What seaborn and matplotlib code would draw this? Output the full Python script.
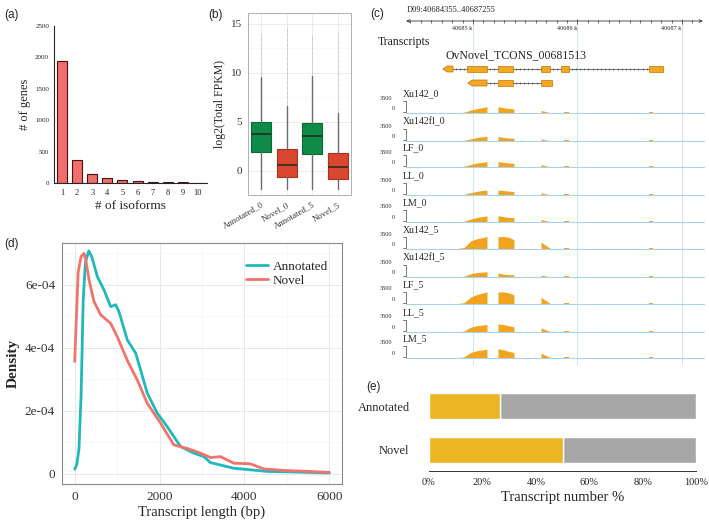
import numpy as np
import pandas as pd
import matplotlib.pyplot as plt
from matplotlib.patches import Rectangle, Polygon
import seaborn as sns

# ---------------- data ----------------
# (a) number of isoforms per gene
isoform_n = ["1", "2", "3", "4", "5", "6", "7", "8", "9", "10"]
gene_counts = [1950, 360, 145, 80, 45, 25, 15, 10, 8, 5]

# (b) log2(Total FPKM) box statistics
box_groups = ["Annotated_0", "Novel_0", "Annotated_5", "Novel_5"]
box_q1 = [1.94, -0.63, 1.77, -0.80]
box_med = [3.75, 0.65, 3.57, 0.39]
box_q3 = [5.0, 2.24, 4.9, 1.8]
box_lo = [-1.84, -1.84, -1.84, -1.84]
box_hi = [9.6, 6.6, 9.7, 5.9]
flier_top = [14.1, 14.7, 13.9, 14.2]

# (c) gene model (genomic coordinates)
region = (40684355, 40687255)
tx1_start = [40684713, 40684943, 40685239, 40685651, 40685842, 40686685]
tx1_end = [40684809, 40685134, 40685383, 40685737, 40685919, 40686819]
tx2_start = [40684952, 40685239, 40685651]
tx2_end = [40685134, 40685383, 40685756]

# coverage sampled at these positions (5 blocks)
cov_pos = [[40684840, 40684914, 40684980, 40685040, 40685100, 40685134],
           [40685239, 40685290, 40685340, 40685392],
           [40685651, 40685737],
           [40685871, 40685919],
           [40686685, 40686723]]
cov_xu142_0 = [30, 200, 800, 1200, 1500, 1700, 1700, 1450, 1250, 1100, 700, 80, 250, 250, 200, 200]
cov_xu142fl_0 = [20, 150, 600, 950, 1150, 1300, 1200, 950, 800, 750, 550, 60, 200, 200, 150, 150]
cov_lf_0 = [30, 200, 700, 1100, 1300, 1450, 1450, 1250, 1100, 1000, 650, 80, 220, 220, 180, 180]
cov_ll_0 = [30, 150, 650, 1000, 1250, 1350, 1350, 1200, 1050, 950, 600, 70, 200, 200, 150, 150]
cov_lm_0 = [30, 200, 800, 1250, 1500, 1650, 1700, 1450, 1250, 1150, 700, 80, 250, 250, 200, 200]
cov_xu142_5 = [80, 400, 2200, 2800, 3100, 3400, 3300, 3350, 3200, 2500, 1900, 200, 400, 400, 350, 350]
cov_xu142fl_5 = [30, 200, 900, 1200, 1350, 1400, 1100, 800, 650, 600, 500, 60, 200, 200, 150, 150]
cov_lf_5 = [60, 350, 1900, 2600, 3000, 3300, 3200, 3300, 3000, 2500, 1800, 200, 400, 400, 350, 350]
cov_ll_5 = [40, 250, 1300, 1700, 1900, 2000, 2200, 2000, 1700, 1400, 1100, 120, 250, 250, 200, 200]
cov_lm_5 = [50, 300, 1500, 2000, 2200, 2400, 2500, 2200, 1800, 1500, 1300, 150, 300, 300, 250, 250]
samples = [("Xu142_0", cov_xu142_0), ("Xu142fl_0", cov_xu142fl_0), ("LF_0", cov_lf_0),
           ("LL_0", cov_ll_0), ("LM_0", cov_lm_0), ("Xu142_5", cov_xu142_5),
           ("Xu142fl_5", cov_xu142fl_5), ("LF_5", cov_lf_5), ("LL_5", cov_ll_5),
           ("LM_5", cov_lm_5)]

# (d) transcript length density (units of 1e-4)
ann_len = [0, 50, 100, 150, 200, 250, 330, 400, 534, 690, 847, 965, 1043, 1240, 1435,
           1553, 1710, 1945, 2180, 2494, 2807, 3042, 3200, 3750, 4530, 5200, 6000]
ann_dens = [0.15, 0.3, 0.8, 2.5, 5.5, 6.7, 7.08, 6.9, 6.26, 5.84, 5.31, 5.37, 5.15, 4.25, 3.84,
            3.3, 2.56, 1.93, 1.5, 0.87, 0.66, 0.55, 0.36, 0.18, 0.08, 0.06, 0.03]
nov_len = [0, 40, 80, 150, 220, 260, 337, 455, 612, 847, 1004, 1240, 1475, 1710, 2024,
           2336, 2650, 2965, 3200, 3435, 3750, 4141, 4455, 4925, 5500, 6000]
nov_dens = [3.57, 5.0, 6.4, 6.9, 7.0, 6.8, 6.16, 5.47, 5.05, 4.78, 4.35, 3.6, 2.98, 2.24, 1.61,
            0.92, 0.81, 0.66, 0.52, 0.55, 0.34, 0.32, 0.16, 0.11, 0.08, 0.05]

# (e) transcript number %
e_cats = ["Annotated", "Novel"]
e_yellow = [26.5, 50.0]
e_grey = [73.5, 50.0]

# ---------------- figure ----------------
sns.set_theme(style="white")
plt.rcParams["font.family"] = ["Liberation Serif", "DejaVu Serif"]
plt.rcParams["axes.linewidth"] = 0.8

W, H = 709, 524
fig = plt.figure(figsize=(W / 100, H / 100), dpi=100)


def px_axes(x0, y0, x1, y1):
    return fig.add_axes([x0 / W, 1 - y1 / H, (x1 - x0) / W, (y1 - y0) / H])


def px_text(x, y, s, **kw):
    fig.text(x / W, 1 - y / H, s, **kw)


SANS = ["Liberation Sans", "DejaVu Sans"]

# ----- (a)
ax = px_axes(54, 26, 207, 183)
sns.barplot(x=isoform_n, y=gene_counts, color="#F26D6B", edgecolor="#4A1212",
            linewidth=0.8, width=0.66, saturation=1, ax=ax)
ax.set_xlim(-0.53, 9.6)
ax.set_ylim(0, 2500)
ax.set_yticks([0, 500, 1000, 1500, 2000, 2500])
sns.despine(ax=ax)
ax.tick_params(axis="both", direction="out", length=2.5, width=0.6, colors="#222222")
ax.tick_params(axis="y", labelsize=5, pad=1)
ax.tick_params(axis="x", labelsize=6, pad=2)
ax.set_xlabel("# of isoforms", fontsize=9.5, labelpad=2)
ax.set_ylabel("# of genes", fontsize=9, labelpad=3)
px_text(4, 18, "(a)", fontsize=8.5, family=SANS)

# ----- (b)
ax = px_axes(248, 13, 351, 195)
stats = [dict(q1=box_q1[i], med=box_med[i], q3=box_q3[i], whislo=box_lo[i],
              whishi=box_hi[i], fliers=[], label=box_groups[i]) for i in range(4)]
ax.vlines(range(4), box_hi, flier_top, colors="#9a9a9a", linewidth=0.7,
          linestyles=(0, (0.4, 0.9)), zorder=2)
bp = ax.bxp(stats, positions=range(4), widths=0.78, patch_artist=True, showfliers=False,
            whiskerprops=dict(color="#6b6b6b", linewidth=1.0),
            capprops=dict(linewidth=0),
            medianprops=dict(color="#1e2a1e", linewidth=1.1))
fills = ["#0F8A47", "#D9472E", "#0F8A47", "#D9472E"]
edges = ["#0A6A35", "#A33520", "#0A6A35", "#A33520"]
for patch, fc, ec in zip(bp["boxes"], fills, edges):
    patch.set_facecolor(fc)
    patch.set_edgecolor(ec)
    patch.set_linewidth(0.8)
ax.set_xlim(-0.5, 3.5)
ax.set_ylim(-2.45, 16.1)
ax.set_yticks([0, 5, 10, 15])
ax.set_yticks([2.5, 7.5, 12.5], minor=True)
ax.set_xticks(range(4))
ax.set_xticklabels(box_groups, rotation=30, ha="right", rotation_mode="anchor", fontsize=6.3)
ax.grid(True, which="major", color="#ebebeb", linewidth=0.7)
ax.grid(True, which="minor", axis="y", color="#f5f5f5", linewidth=0.5)
ax.set_axisbelow(True)
for s in ax.spines.values():
    s.set_color("#b0b0b0")
    s.set_linewidth(0.7)
ax.tick_params(axis="both", which="major", direction="out", length=2.5, width=0.6,
               colors="#333333", labelsize=8, pad=2)
ax.tick_params(axis="x", which="major", labelsize=6.3, pad=1.5)
ax.tick_params(axis="both", which="minor", length=0)
ax.set_ylabel("log2(Total FPKM)", fontsize=8.5, labelpad=3)
px_text(208, 18, "(b)", fontsize=8.5, family=SANS)

# ----- (c)
G0, G1 = region
oc = px_axes(405.6, 0, 708.6, 370)
oc.set_xlim(G0, G1)
oc.set_ylim(370, 0)
oc.axis("off")
for g in [40685000, 40686000, 40687000]:
    oc.vlines(g, 21, 365, color="#cde6f4", linewidth=0.7, zorder=0)
ruler_end = 40687200
oc.annotate("", xy=(G0 + 5, 21), xytext=(ruler_end, 21),
            arrowprops=dict(arrowstyle="<->", lw=0.6, color="#333333",
                            shrinkA=0, shrinkB=0, mutation_scale=5))
for g in range(40684400, ruler_end, 100):
    major = g % 1000 == 0
    oc.vlines(g, 21 - (2.5 if major else 1.5), 21 + (2.5 if major else 1.5),
              color="#333333", linewidth=0.5)
    if major:
        oc.text(g - 100, 28, f"{g // 1000} k", fontsize=4.5, ha="center", va="center")
px_text(407, 10, "D09:40684355..40687255", fontsize=6, va="center")
px_text(370, 17, "(c)", fontsize=8.5, family=SANS)
px_text(378, 42, "Transcripts", fontsize=8.5, va="center")
px_text(445, 55, "OvNovel_TCONS_00681513", fontsize=8.5, va="center")

exon_fc, exon_ec = "#F5A623", "#B97806"


def draw_tx(starts, ends, y, h=6):
    oc.plot([starts[0], ends[-1]], [y, y], color="#555555", linewidth=0.6, zorder=1)
    for a, b in zip(ends[:-1], starts[1:]):
        ticks = np.arange(a + 25, b - 10, 40)
        oc.plot(ticks, [y] * len(ticks), linestyle="none", marker="|", markersize=2,
                markeredgewidth=0.5, color="#555555", zorder=1)
    tip = 40
    s0, e0 = starts[0], ends[0]
    oc.add_patch(Polygon([(s0, y), (s0 + tip, y - h / 2), (e0, y - h / 2), (e0, y + h / 2),
                          (s0 + tip, y + h / 2)], closed=True, facecolor=exon_fc,
                         edgecolor=exon_ec, linewidth=0.5, zorder=2))
    for a, b in zip(starts[1:], ends[1:]):
        oc.add_patch(Rectangle((a, y - h / 2), b - a, h, facecolor=exon_fc,
                               edgecolor=exon_ec, linewidth=0.5, zorder=2))


draw_tx(tx1_start, tx1_end, 69)
draw_tx(tx2_start, tx2_end, 83)

baselines = [113, 141, 167, 195, 222, 249, 277, 304, 332, 358]
for (name, cov), base in zip(samples, baselines):
    ta = px_axes(405.6, base - 13, 708.6, base)
    ta.set_xlim(G0, G1)
    ta.set_ylim(0, 3500)
    ta.axis("off")
    k = 0
    for block in cov_pos:
        vals = cov[k:k + len(block)]
        ta.fill_between(block, 0, vals, color="#F2A41E", linewidth=0)
        k += len(block)
    ta.axhline(0, color="#a9d3ec", linewidth=0.8, clip_on=False, xmax=0.985)
    ta.plot([-0.008, 0.0, 0.0, -0.008], [0.92, 0.92, 0.08, 0.08], transform=ta.transAxes,
            color="#444444", linewidth=0.5, clip_on=False)
    px_text(403, base - 19, name, fontsize=7, va="center")
    px_text(392, base - 15, "3500", fontsize=4.5, ha="right", va="center")
    px_text(395, base - 4.5, "0", fontsize=4.5, ha="right", va="center")

# ----- (d)
ax = px_axes(62, 243, 342, 484)
dens_df = pd.concat([
    pd.DataFrame({"length": ann_len, "density": np.array(ann_dens) * 1e-4, "type": "Annotated"}),
    pd.DataFrame({"length": nov_len, "density": np.array(nov_dens) * 1e-4, "type": "Novel"}),
])
sns.lineplot(data=dens_df, x="length", y="density", hue="type",
             hue_order=["Annotated", "Novel"],
             palette={"Annotated": "#1FB8BB", "Novel": "#F0746C"},
             linewidth=2, ax=ax)
ax.set_xlim(-300, 6300)
ax.set_ylim(-0.32e-4, 7.33e-4)
ax.set_xticks([0, 2000, 4000, 6000])
ax.set_xticks([1000, 3000, 5000], minor=True)
ax.set_yticks([0, 2e-4, 4e-4, 6e-4])
ax.set_yticks([1e-4, 3e-4, 5e-4, 7e-4], minor=True)
ax.set_yticklabels(["0", "2e-04", "4e-04", "6e-04"])
ax.grid(True, which="major", color="#e8e8e8", linewidth=0.7)
ax.grid(True, which="minor", color="#f4f4f4", linewidth=0.5)
ax.set_axisbelow(True)
for s in ax.spines.values():
    s.set_color("#8a8a8a")
    s.set_linewidth(0.8)
ax.tick_params(axis="both", which="major", direction="out", length=3, width=0.6,
               colors="#333333", labelsize=9.5, pad=2)
ax.tick_params(axis="both", which="minor", length=0)
ax.set_xlabel("Transcript length (bp)", fontsize=10.5, labelpad=2)
ax.set_ylabel("Density", fontsize=11, fontweight="bold", labelpad=4)
ax.legend(title=None, frameon=False, loc="upper left", bbox_to_anchor=(0.635, 0.955),
          fontsize=9.5, handlelength=1.6, handletextpad=0.4, labelspacing=0.15,
          borderpad=0)
px_text(4, 247, "(d)", fontsize=8.5, family=SANS)

# ----- (e)
ax = px_axes(429, 385, 696, 471)
ax.barh(e_cats, e_grey, left=e_yellow, height=0.6, color="#A7A7A7")
sns.barplot(x=e_yellow, y=e_cats, orient="h", color="#ECB524", width=0.6,
            saturation=1, ax=ax)
ax.set_xlim(0, 100)
ax.set_ylim(1.49, -0.49)
ax.set_xticks([0, 20, 40, 60, 80, 100])
ax.set_xticklabels(["0%", "20%", "40%", "60%", "80%", "100%"])
sns.despine(ax=ax, left=True)
ax.spines["bottom"].set_color("#333333")
ax.spines["bottom"].set_linewidth(0.7)
ax.tick_params(axis="x", direction="out", length=3, width=0.6, colors="#222222",
               labelsize=7.5, pad=2)
ax.tick_params(axis="y", length=0, labelsize=9, pad=14)
ax.set_xlabel("Transcript number %", fontsize=10.5, labelpad=3)
ax.set_ylabel("")
px_text(366, 390, "(e)", fontsize=8.5, family=SANS)

fig.savefig("out.png", dpi=100)
